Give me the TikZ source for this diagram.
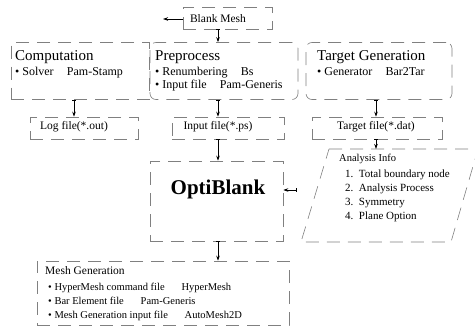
\documentclass[tikz,border=0pt]{standalone}
\usepackage{fontspec}
\setmainfont{Liberation Serif}
\usetikzlibrary{arrows.meta,calc}
\newcommand{\gapx}{\hspace{1.1em}}
\begin{document}
\begin{tikzpicture}[x=1pt,y=-1pt,
  frame/.style={draw=black!50, dash pattern=on 13pt off 8pt, line width=0.6pt},
  arr/.style={{Bar[width=4pt]}-{Stealth[length=5pt,width=3.5pt]}, line width=0.8pt},
  head/.style={font=\fontsize{15}{17}\selectfont, inner sep=0pt, anchor=base west},
  item/.style={font=\fontsize{12}{13}\selectfont, inner sep=0pt, anchor=base west},
  lab/.style={font=\fontsize{11.5}{13}\selectfont, inner sep=0pt},
  boxst/.style={frame, inner sep=0pt},
]
\useasboundingbox (0,0) rectangle (475,327);

% Blank Mesh
\node[boxst, minimum width=89pt, minimum height=22pt] (blankbox) at (227.5,18) {};
\node[lab] (blank) at (218,19) {Blank Mesh};
\coordinate (blankleft) at (163,19);
\draw[-{Stealth[length=5pt,width=3.5pt]}, line width=0.8pt] (blankbox.west |- blankleft) -- (blankleft);

% Top row boxes
\node[boxst, minimum width=138pt, minimum height=57pt] (compbox) at (80,71) {};
\node[boxst, rounded corners=6pt, minimum width=148pt, minimum height=57pt] (prebox) at (224,71) {};
\node[boxst, rounded corners=6pt, minimum width=146pt, minimum height=57pt] (tarbox) at (379,71) {};

\node[head] (comp) at (15,60) {Computation};
\node[item] (comp1) at (15,75) {• Solver\gapx Pam-Stamp};

\node[head] (pre) at (155,60) {Preprocess};
\node[item] (pre1) at (155,75) {• Renumbering\gapx Bs};
\node[item] (pre2) at (155,88) {• Input file\gapx Pam-Generis};

\node[head] (tar) at (317,60) {Target Generation};
\node[item] (tar1) at (317,75) {• Generator\gapx Bar2Tar};

\draw[arr] (blankbox.south -| blank) -- (prebox.north -| blank);

% file labels
\node[lab] (logf) at (74,127) {Log file(*.out)};
\node[lab] (inf) at (218,127) {Input file(*.ps)};
\node[lab] (tgf) at (376,127) {Target file(*.dat)};
\node[boxst, minimum width=108pt, minimum height=22pt] (logbox) at (84,128) {};
\node[boxst, minimum width=112pt, minimum height=22pt] (inbox) at (228,128) {};
\node[boxst, minimum width=130pt, minimum height=22pt] (tgbox) at (377,128) {};

\draw[arr] (compbox.south -| logf) -- (logbox.north -| logf);
\draw[arr] (prebox.south -| inf) -- (inbox.north -| inf);
\draw[arr] (tarbox.south -| tgf) -- (tgbox.north -| tgf);

% OptiBlank
\node[boxst, minimum width=133pt, minimum height=80pt] (optibox) at (216.5,201) {};
\node[font=\fontsize{21}{24}\selectfont\bfseries, inner sep=0pt] (opti) at (218,189) {OptiBlank};
\draw[arr] (inbox.south -| inf) -- (optibox.north -| inf);

% Analysis info parallelogram
\coordinate (p1) at (329,149);
\coordinate (p2) at (478,149);
\coordinate (p3) at (451,242);
\coordinate (p4) at (301,242);
\draw[frame] (p1) -- (p2) -- (p3) -- (p4) -- cycle;
\coordinate (ptop) at (376,149);
\draw[arr] (tgbox.south -| tgf) -- (ptop);
\node[item, font=\fontsize{10.5}{12}\selectfont] (ana) at (339,161) {Analysis Info};
\node[item, font=\fontsize{11}{13}\selectfont] (ana1) at (345,177) {1.\enspace Total boundary node};
\node[item, font=\fontsize{11}{13}\selectfont] (ana2) at (345,191) {2.\enspace Analysis Process};
\node[item, font=\fontsize{11}{13}\selectfont] (ana3) at (345,205) {3.\enspace Symmetry};
\node[item, font=\fontsize{11}{13}\selectfont] (ana4) at (345,219) {4.\enspace Plane Option};
\coordinate (atail) at (297,190);
\draw[arr] (atail) -- (optibox.east |- atail);

% Mesh Generation
\node[boxst, minimum width=252pt, minimum height=64pt] (meshbox) at (163,293) {};
\node[head, font=\fontsize{11.5}{14}\selectfont] (mesh) at (45,274) {Mesh Generation};
\node[item, font=\fontsize{10.5}{12}\selectfont] (mesh1) at (48,290) {• HyperMesh command file\hspace{1.6em}HyperMesh};
\node[item, font=\fontsize{10.5}{12}\selectfont] (mesh2) at (48,304) {• Bar Element file\hspace{1.6em}Pam-Generis};
\node[item, font=\fontsize{10.5}{12}\selectfont] (mesh3) at (48,318) {• Mesh Generation input file\hspace{1.6em}AutoMesh2D};
\draw[arr] (optibox.south -| opti) -- (meshbox.north -| opti);
\end{tikzpicture}
\end{document}
